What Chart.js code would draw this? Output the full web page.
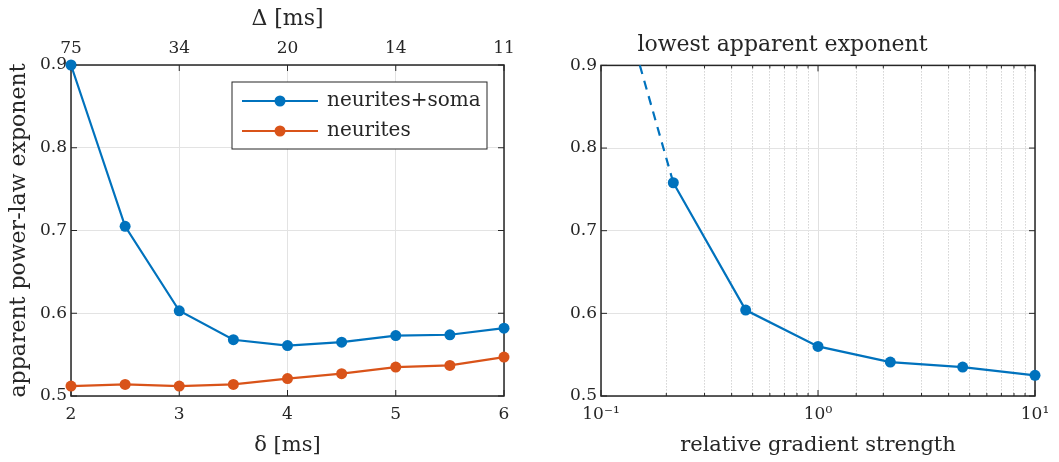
<!DOCTYPE html>
<html>
<head>
<meta charset="utf-8">
<script src="https://cdn.jsdelivr.net/npm/chart.js@4.4.0/dist/chart.umd.min.js"></script>
<style>
body { margin: 0; background: #fff; }
#wrap { position: relative; width: 1059px; height: 462px; }
canvas { position: absolute; top: 0; }
</style>
</head>
<body>
<div id="wrap">
  <canvas id="deltaChart" width="530" height="462" style="left:0"></canvas>
  <canvas id="gradChart" width="529" height="462" style="left:530px"></canvas>
</div>
<script>
// exponent vs pulse duration (delta), big delta on the top axis
var smallDelta = [2, 2.5, 3, 3.5, 4, 4.5, 5, 5.5, 6];
var expNeuritesSoma = [0.900, 0.705, 0.603, 0.568, 0.561, 0.565, 0.573, 0.574, 0.582];
var expNeurites = [0.512, 0.514, 0.512, 0.514, 0.521, 0.527, 0.535, 0.537, 0.547];
var bigDeltaLabels = ['75', '34', '20', '14', '11'];

// lowest exponent vs relative gradient strength
var gradStrength = [0.2154, 0.4642, 1, 2.154, 4.642, 10];
var lowestExp = [0.758, 0.604, 0.560, 0.541, 0.535, 0.525];
var extrapStrength = [0.151, 0.2154];
var extrapExp = [0.900, 0.758];

var logLabels = { '-1': '10\u207B\u00B9', '0': '10\u2070', '1': '10\u00B9' };

var BLUE = '#0072BD';
var ORANGE = '#D95319';
var INK = '#262626';

Chart.defaults.font.family = "'DejaVu Serif', serif";
Chart.defaults.color = INK;
Chart.defaults.animation = false;
Chart.defaults.plugins.legend.display = false;
Chart.defaults.plugins.tooltip.enabled = false;

function xy(xs, ys) {
    var out = [];
    for (var i = 0; i < xs.length; i++) out.push({ x: xs[i], y: ys[i] });
    return out;
}

function isDecade(v) {
    var l = Math.log10(v);
    return Math.abs(l - Math.round(l)) < 1e-6;
}

// box + inward tick marks, matlab style
var framePlugin = {
    id: 'frame',
    beforeDatasetsDraw: function(chart) {
        var a = chart.chartArea, ctx = chart.ctx;
        var xs = chart.scales.x, ys = chart.scales.y;
        ctx.save();
        ctx.strokeStyle = INK;
        ctx.lineWidth = 1;
        ctx.beginPath();
        xs.ticks.forEach(function(t) {
            var px = xs.getPixelForValue(t.value);
            var len = (xs.type === 'logarithmic' && !isDecade(t.value)) ? 3 : 6;
            ctx.moveTo(px, a.bottom); ctx.lineTo(px, a.bottom - len);
            ctx.moveTo(px, a.top); ctx.lineTo(px, a.top + len);
        });
        ys.ticks.forEach(function(t) {
            var py = ys.getPixelForValue(t.value);
            ctx.moveTo(a.left, py); ctx.lineTo(a.left + 6, py);
            ctx.moveTo(a.right, py); ctx.lineTo(a.right - 6, py);
        });
        ctx.stroke();
        ctx.lineWidth = 1.5;
        ctx.strokeRect(a.left, a.top, a.right - a.left, a.bottom - a.top);
        ctx.restore();
    }
};

// legend box inside the left axes
var boxLegend = {
    id: 'boxLegend',
    afterDatasetsDraw: function(chart) {
        var ctx = chart.ctx;
        var x0 = 232, y0 = 82, w = 255, h = 67;
        ctx.save();
        ctx.fillStyle = '#fff';
        ctx.fillRect(x0, y0, w, h);
        ctx.strokeStyle = INK;
        ctx.lineWidth = 1;
        ctx.strokeRect(x0, y0, w, h);
        chart.data.datasets.forEach(function(ds, i) {
            var cy = y0 + 19 + i * 30;
            ctx.strokeStyle = ds.borderColor;
            ctx.lineWidth = 2.2;
            ctx.beginPath();
            ctx.moveTo(x0 + 10, cy); ctx.lineTo(x0 + 86, cy);
            ctx.stroke();
            ctx.fillStyle = ds.borderColor;
            ctx.beginPath();
            ctx.arc(x0 + 48, cy, 5.5, 0, Math.PI * 2);
            ctx.fill();
            ctx.fillStyle = INK;
            ctx.font = "20px 'DejaVu Serif', serif";
            ctx.textBaseline = 'middle';
            ctx.fillText(ds.label, x0 + 95, cy);
        });
        ctx.restore();
    }
};

function fixW(w) { return function(s) { s.width = w; }; }
function fixH(h) { return function(s) { s.height = h; }; }

var yAxis = {
    min: 0.5, max: 0.9,
    afterFit: fixW(71),
    border: { display: false },
    grid: { color: '#e3e3e3', drawTicks: false },
    ticks: { stepSize: 0.1, padding: 4, font: { size: 17 },
        callback: function(v) { return v.toFixed(1); } }
};

function line(label, data, color) {
    return {
        label: label, data: data,
        borderColor: color, backgroundColor: color,
        borderWidth: 2.2, pointRadius: 5.5, pointBorderWidth: 0,
        pointBackgroundColor: color, clip: false
    };
}

new Chart(document.getElementById('deltaChart'), {
    type: 'line',
    data: {
        datasets: [
            line('neurites+soma', xy(smallDelta, expNeuritesSoma), BLUE),
            line('neurites', xy(smallDelta, expNeurites), ORANGE)
        ]
    },
    options: {
        responsive: false,
        devicePixelRatio: 1,
        layout: { padding: { right: 26, top: 0, bottom: 0, left: 0 } },
        scales: {
            x: {
                type: 'linear', position: 'bottom', min: 2, max: 6,
                afterFit: fixH(66),
                border: { display: false },
                grid: { color: '#e3e3e3', drawTicks: false },
                ticks: { stepSize: 1, padding: 8, font: { size: 17 }, maxRotation: 0 },
                title: { display: true, text: '\u03B4 [ms]', font: { size: 21 }, padding: { top: 8 } }
            },
            x2: {
                type: 'linear', position: 'top', min: 2, max: 6,
                afterFit: fixH(65),
                border: { display: false },
                grid: { display: false, drawTicks: false },
                ticks: { stepSize: 1, padding: 6, font: { size: 17 }, maxRotation: 0,
                    callback: function(v, i) { return bigDeltaLabels[i]; } },
                title: { display: true, text: '\u0394 [ms]', font: { size: 22 }, padding: { top: 6 } }
            },
            y: Object.assign({}, yAxis, {
                title: { display: true, text: 'apparent power-law exponent', font: { size: 22 }, padding: { top: 6 } }
            })
        }
    },
    plugins: [framePlugin, boxLegend]
});

new Chart(document.getElementById('gradChart'), {
    type: 'line',
    data: {
        datasets: [
            line('lowest', xy(gradStrength, lowestExp), BLUE),
            Object.assign(line('extrapolated', xy(extrapStrength, extrapExp), BLUE),
                { pointRadius: 0, borderDash: [9, 7] })
        ]
    },
    options: {
        responsive: false,
        devicePixelRatio: 1,
        layout: { padding: { right: 24, top: 0, bottom: 0, left: 0 } },
        plugins: {
            title: { display: true, text: 'lowest apparent exponent', color: INK,
                font: { size: 22, weight: 'normal' }, padding: { top: 32, bottom: 7 } }
        },
        scales: {
            x: {
                type: 'logarithmic', position: 'bottom', min: 0.1, max: 10,
                afterFit: fixH(66),
                border: { display: false,
                    dash: function(c) { return (c.tick && !isDecade(c.tick.value)) ? [1, 2] : []; } },
                grid: { drawTicks: false,
                    color: function(c) { return (c.tick && !isDecade(c.tick.value)) ? '#bdbdbd' : '#e0e0e0'; } },
                ticks: { autoSkip: false, padding: 8, font: { size: 17 }, maxRotation: 0,
                    callback: function(v) {
                        if (!isDecade(v)) return '';
                        return logLabels[String(Math.round(Math.log10(v)))];
                    } },
                title: { display: true, text: 'relative gradient strength', font: { size: 21 }, padding: { top: 8 } }
            },
            y: yAxis
        }
    },
    plugins: [framePlugin]
});
</script>
</body>
</html>
